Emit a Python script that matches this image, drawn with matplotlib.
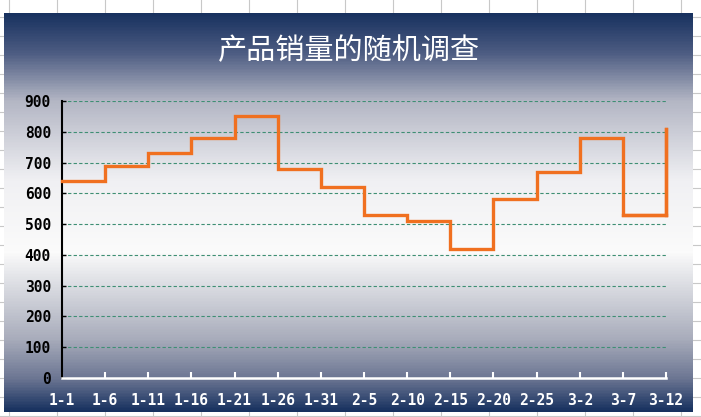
import numpy as np
import matplotlib
matplotlib.use("Agg")
import matplotlib.pyplot as plt
from matplotlib.colors import LinearSegmentedColormap
from matplotlib.lines import Line2D

plt.rcParams['font.family'] = ['Noto Sans CJK SC', 'DejaVu Sans']

# data
dates = ["1-1", "1-6", "1-11", "1-16", "1-21", "1-26", "1-31", "2-5",
         "2-10", "2-15", "2-20", "2-25", "3-2", "3-7", "3-12"]
sales = [640, 690, 730, 780, 850, 680, 620, 530, 510, 420, 580, 670, 780, 530, 810]
title = "产品销量的随机调查"

W, H = 701, 417
fig = plt.figure(figsize=(W / 100, H / 100), dpi=100)
fig.patch.set_facecolor("white")

# spreadsheet cell grid behind the chart
for x in range(9, W, 48):
    fig.add_artist(Line2D([x / W, x / W], [0, 1], color="#c8c8c8", lw=0.8, zorder=-10))
for y in range(17, H, 19):
    fig.add_artist(Line2D([0, 1], [1 - y / H, 1 - y / H], color="#c8c8c8", lw=0.8, zorder=-10))

# chart area with navy-white-navy gradient
left, top, right, bottom = 4, 13, 693, 412
bg = fig.add_axes([left / W, 1 - bottom / H, (right - left) / W, (bottom - top) / H])
bg.set_zorder(-5)
cmap = LinearSegmentedColormap.from_list("bg", [
    (0.0, "#17315f"), (0.1, "#4d5c82"), (0.22, "#b3b6c4"), (0.42, "#f0f0f3"),
    (0.6, "#fbfbfb"), (0.82, "#a8acbb"), (0.92, "#6b7592"), (1.0, "#17315f")])
bg.imshow(np.linspace(0, 1, 400).reshape(-1, 1), aspect="auto", cmap=cmap,
          extent=[0, 1, 0, 1])
bg.set_axis_off()

fig.text(349 / W, 1 - 51 / H, title, color="white", fontsize=21,
         ha="center", va="center")

# plot area
x0, x1, y0, y1 = 62, 666, 378, 101
ax = fig.add_axes([x0 / W, 1 - y0 / H, (x1 - x0) / W, (y0 - y1) / H])
ax.patch.set_alpha(0)
xs = np.arange(len(dates))
ax.step(xs, sales, where="post", color="#f07020", lw=2.4, zorder=3,
        solid_joinstyle="miter", clip_on=False)
ax.plot([xs[-2], xs[-1]], [sales[-2], sales[-2]], color="#f07020", lw=2.4,
        zorder=3, clip_on=False)
ax.plot([xs[-1], xs[-1]], [sales[-2], sales[-1]], color="#f07020", lw=2.4,
        zorder=3, clip_on=False)

ax.set_xlim(0, len(dates) - 1)
ax.set_ylim(0, 900)
ax.set_yticks(range(0, 901, 100))
ax.set_xticks(xs)
ax.set_xticklabels(dates)
for yv in range(100, 901, 100):
    ax.axhline(yv, color="#3f8f74", lw=0.8, ls=(0, (3, 2)), zorder=1)

for s in ["top", "right"]:
    ax.spines[s].set_visible(False)
ax.spines["left"].set_color("black")
ax.spines["left"].set_linestyle((0, (1, 1)))
ax.spines["left"].set_linewidth(1.5)
ax.spines["bottom"].set_color("white")
ax.spines["bottom"].set_linewidth(1.8)

ax.tick_params(axis="x", direction="in", length=4, width=1.5, color="white",
               labelcolor="white", pad=11)
ax.tick_params(axis="y", direction="in", length=3, width=1, color="black",
               labelcolor="black", pad=8)
for lab in ax.get_xticklabels() + ax.get_yticklabels():
    lab.set_fontfamily("DejaVu Sans Mono")
    lab.set_fontweight("bold")
    lab.set_fontsize(10.5)

fig.savefig("out.png", dpi=100)
